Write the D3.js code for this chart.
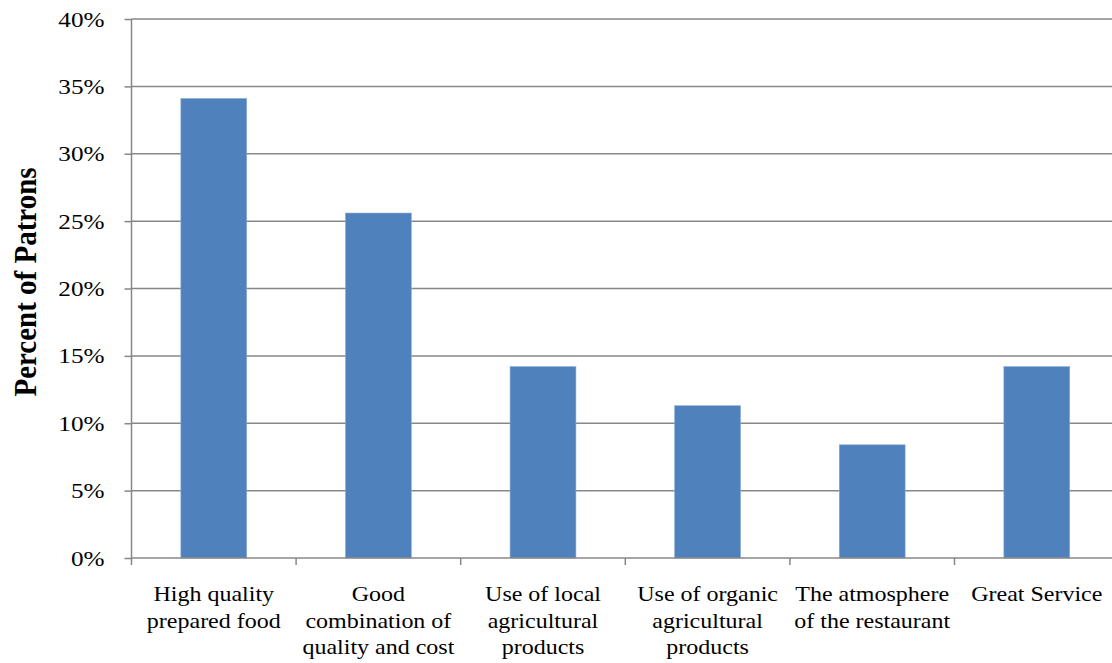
<!DOCTYPE html>
<html>
<head>
<meta charset="utf-8">
<script src="https://cdn.jsdelivr.net/npm/d3@7"></script>
<style>
  html, body { margin: 0; padding: 0; background: #fff; }
  svg { display: block; overflow: hidden; }
  text { font-family: "Liberation Serif", "Times New Roman", serif; fill: #000; }
</style>
</head>
<body>
<svg id="chart" width="1112" height="663"></svg>
<script>
// Reasons patrons choose the restaurant (share of respondents, %)
const categories = [
  ["High quality", "prepared food"],
  ["Good", "combination of", "quality and cost"],
  ["Use of local", "agricultural", "products"],
  ["Use of organic", "agricultural", "products"],
  ["The atmosphere", "of the restaurant"],
  ["Great Service"]
];
const values = [34.1, 25.6, 14.2, 11.3, 8.4, 14.2];
const yTicks = [0, 5, 10, 15, 20, 25, 30, 35, 40];
const yTitle = "Percent of Patrons";

const svg = d3.select("#chart");
const plotLeft = 131.5, plotTop = 19, plotBottom = 558, step = 164.6;
const stretch = 1.2; // glyphs are drawn slightly wide

const keys = categories.map((c, i) => i);
const x = d3.scaleBand().domain(keys).range([plotLeft, plotLeft + step * keys.length]).padding(0);
const y = d3.scaleLinear().domain([0, 40]).range([plotBottom, plotTop]);

// horizontal gridlines
svg.append("g").selectAll("line").data(yTicks.filter(t => t > 0)).join("line")
  .attr("x1", plotLeft).attr("x2", 1112)
  .attr("y1", d => y(d)).attr("y2", d => y(d))
  .attr("stroke", "#878787").attr("stroke-width", 1.5);

// bars
svg.append("g").selectAll("rect").data(values).join("rect")
  .attr("x", (d, i) => x(i) + x.bandwidth() * 0.3)
  .attr("width", x.bandwidth() * 0.4)
  .attr("y", d => y(d))
  .attr("height", d => y(0) - y(d))
  .attr("fill", "#4f81bd")
  .attr("stroke", "#87a9d6").attr("stroke-width", 0.6);

// y axis
const yAxis = d3.axisLeft(y).tickValues(yTicks).tickSize(7).tickFormat(d => d + "%");
const gy = svg.append("g").attr("transform", `translate(${plotLeft},0)`).call(yAxis);
gy.select(".domain").attr("stroke", "#878787").attr("stroke-width", 1.5).attr("d", `M0,${plotTop}V${plotBottom}`);
gy.selectAll(".tick line").attr("stroke", "#878787").attr("stroke-width", 1.5);
gy.selectAll(".tick text")
  .attr("x", null).attr("dy", null)
  .attr("font-size", 21)
  .attr("text-anchor", "end")
  .attr("transform", `translate(-27,7) scale(${stretch},1)`);

// x axis baseline and category dividers
const gx = svg.append("g").attr("transform", `translate(0,${plotBottom})`);
gx.append("line").attr("x1", plotLeft).attr("x2", 1112).attr("y1", 0).attr("y2", 0)
  .attr("stroke", "#878787").attr("stroke-width", 1.5);
gx.selectAll("line.div").data(keys).join("line").attr("class", "div")
  .attr("x1", d => x(d)).attr("x2", d => x(d)).attr("y1", 0).attr("y2", 7)
  .attr("stroke", "#878787").attr("stroke-width", 1.5);

// category labels
const lab = svg.append("g").selectAll("text").data(categories).join("text")
  .attr("font-size", 20)
  .attr("text-anchor", "middle")
  .attr("transform", (d, i) => `translate(${x(i) + x.bandwidth() / 2},601) scale(${stretch},1)`);
lab.selectAll("tspan").data(d => d).join("tspan")
  .attr("x", 0).attr("y", (d, j) => j * 26.7).text(d => d);

// y title
svg.append("text")
  .attr("transform", "translate(36,282) rotate(-90) scale(1,1.1)")
  .attr("text-anchor", "middle")
  .attr("font-size", 29).attr("font-weight", "bold")
  .text(yTitle);
</script>
</body>
</html>
